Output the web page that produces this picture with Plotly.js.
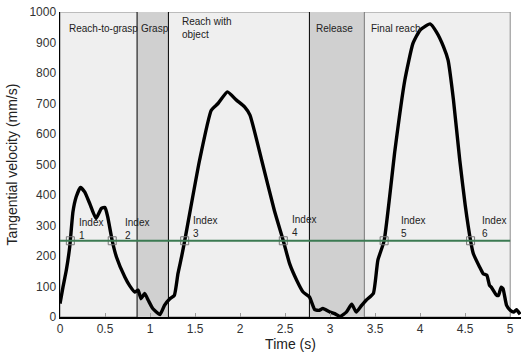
<!DOCTYPE html>
<html>
<head>
<meta charset="utf-8">
<script src="https://cdn.plot.ly/plotly-3.0.1.min.js"></script>
<style>html,body{margin:0;padding:0;background:#fff;}#chart{width:531px;height:354px;}</style>
</head>
<body>
<div id="chart"></div>
<script>
// Time (s) and tangential velocity (mm/s)
const time = [0, 0.033, 0.07, 0.108, 0.144, 0.18, 0.227, 0.274, 0.33, 0.40, 0.46, 0.50, 0.53, 0.58, 0.627, 0.72, 0.775, 0.83, 0.867, 0.90, 0.94, 0.98, 1.03, 1.11, 1.16, 1.22, 1.27, 1.31, 1.35, 1.385, 1.55, 1.68, 1.755, 1.86, 1.96, 2.05, 2.11, 2.24, 2.38, 2.48, 2.55, 2.63, 2.70, 2.77, 2.83, 2.88, 2.92, 3.0, 3.05, 3.11, 3.18, 3.24, 3.29, 3.35, 3.40, 3.48, 3.53, 3.60, 3.72, 3.83, 3.92, 4.0, 4.11, 4.18, 4.26, 4.31, 4.37, 4.44, 4.50, 4.56, 4.59, 4.66, 4.70, 4.74, 4.77, 4.79, 4.85, 4.87, 4.90, 4.92, 4.96, 5.0, 5.04, 5.07, 5.11];
const velocity = [44, 98, 153, 230, 345, 394, 425, 410, 372, 323, 356, 359, 328, 250, 197, 131, 102, 82, 88, 60, 77, 55, 28, 8, 38, 60, 71, 142, 197, 250, 514, 678, 700, 738, 711, 689, 662, 514, 350, 250, 175, 120, 82, 66, 24, 22, 28, 16, 11, 2, 16, 42, 16, 38, 55, 77, 186, 250, 547, 777, 897, 941, 961, 935, 886, 842, 711, 514, 367, 250, 208, 164, 142, 137, 104, 98, 71, 71, 98, 93, 38, 22, 16, 24, 9];

// Index points where velocity crosses the threshold
const indexTimes = [0.115, 0.58, 1.385, 2.48, 3.60, 4.56];
const indexLabels = ["1", "2", "3", "4", "5", "6"];
const threshold = 250;

// Movement phases
const phaseNames = ["Reach-to-grasp", "Grasp", "Reach with<br>object", "Release", "Final reach"];
const phaseStarts = [0, 0.856, 1.204, 2.77, 3.38];
const phaseEnds = [0.856, 1.204, 2.77, 3.38, 5.0];

const shapes = [];
// overall light background box
shapes.push({type:'rect', xref:'x', yref:'y', x0:0, x1:phaseEnds[4], y0:0, y1:1000,
  fillcolor:'#efefef', line:{color:'#8a8a8a', width:1}, layer:'below'});
// dark phases (grasp, release)
[1,3].forEach(i => shapes.push({type:'rect', xref:'x', yref:'y', x0:phaseStarts[i], x1:phaseEnds[i], y0:0, y1:1000,
  fillcolor:'#d0d0d0', line:{width:0}, layer:'below'}));
// boundary lines
const boundaryColors = ['#000', '#000', '#000', '#777'];
[phaseStarts[1], phaseStarts[2], phaseStarts[3], phaseStarts[4]].forEach((b, k) =>
  shapes.push({type:'line', xref:'x', yref:'y', x0:b, x1:b, y0:0, y1:1000,
    line:{color:boundaryColors[k], width:1}, layer:'below'}));
// threshold line
shapes.push({type:'line', xref:'x', yref:'y', x0:0, x1:phaseEnds[4], y0:threshold, y1:threshold,
  line:{color:'#3b7a52', width:2}, layer:'above'});

const labelFont = {family:'Liberation Sans, Arial, sans-serif', size:10, color:'#222'};
const annotations = [];
const phaseLabelX = [0.074, 0.874, 1.33, 2.82, 3.43];
const phaseLabelY = [947, 947, 947, 945, 945];
phaseNames.forEach((n, i) => annotations.push({x:phaseLabelX[i], y:phaseLabelY[i], xref:'x', yref:'y',
  text:n, showarrow:false, xanchor:'left', yanchor:'middle', align:'left', font:labelFont}));
const indexLabelX = [0.185, 0.70, 1.46, 2.55, 3.77, 4.67];
const indexLabelY = [290, 290, 296, 298, 296, 296];
indexLabels.forEach((n, i) => annotations.push({x:indexLabelX[i], y:indexLabelY[i], xref:'x', yref:'y',
  text:'Index<br>' + n, showarrow:false, xanchor:'left', yanchor:'middle', align:'left', font:labelFont}));

const traces = [
  {x:time, y:velocity, type:'scatter', mode:'lines', line:{color:'#000', width:3.4, shape:'spline', smoothing:0.45}, hoverinfo:'skip'},
  {x:indexTimes, y:indexTimes.map(() => threshold), type:'scatter', mode:'markers',
   marker:{symbol:'square-open', size:8, color:'#777', line:{width:1}}, hoverinfo:'skip'}
];

const tickFont = {family:'Liberation Sans, Arial, sans-serif', size:12, color:'#333'};
const layout = {
  width:531, height:354,
  margin:{l:60, r:10, t:12, b:37},
  paper_bgcolor:'#fff', plot_bgcolor:'#fff',
  showlegend:false,
  xaxis:{range:[0, 5.12], tickvals:[0,0.5,1,1.5,2,2.5,3,3.5,4,4.5,5], ticktext:['0','0.5','1','1.5','2','2.5','3','3.5','4','4.5','5'],
    ticks:'inside', ticklen:4, tickcolor:'#999', tickwidth:1,
    showline:true, linecolor:'#000', linewidth:1.5, showgrid:false, zeroline:false,
    tickfont:tickFont,
    title:{text:'Time (s)', font:{family:'Liberation Sans, Arial, sans-serif', size:14, color:'#222'}, standoff:0}},
  yaxis:{range:[0, 1000], dtick:100, ticks:'', showline:true, linecolor:'#000', linewidth:1.5,
    showgrid:false, zeroline:false, tickfont:tickFont,
    title:{text:'Tangential velocity (mm/s)', font:{family:'Liberation Sans, Arial, sans-serif', size:14, color:'#222'}, standoff:8}},
  shapes:shapes, annotations:annotations
};
Plotly.newPlot('chart', traces, layout, {displayModeBar:false, staticPlot:true});
</script>
</body>
</html>
